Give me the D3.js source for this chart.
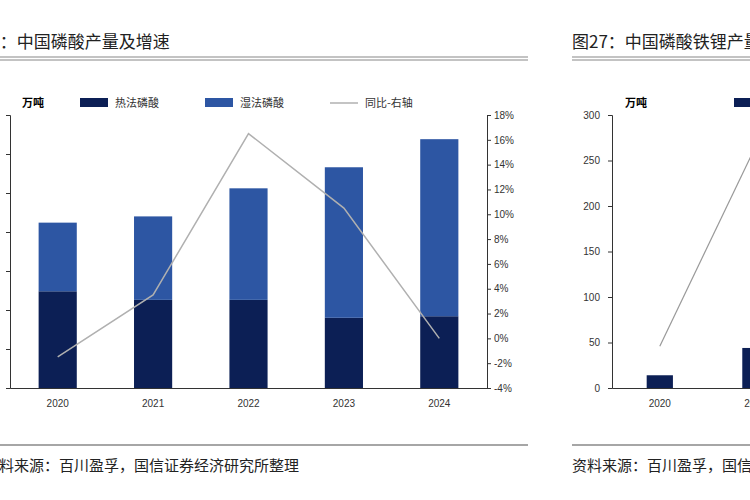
<!DOCTYPE html>
<html><head><meta charset="utf-8">
<script src="https://cdn.jsdelivr.net/npm/d3@7"></script>
<style>body{margin:0;background:#fff}svg{display:block;font-family:"Noto Sans CJK SC",sans-serif}</style>
</head><body><div id="chart"></div>
<script>
const years = ['2020', '2021', '2022', '2023', '2024'];
const thermal = [124, 113, 113, 90, 92];       // 热法磷酸
const wet = [88, 107, 143, 193, 227];          // 湿法磷酸
const yoy = [-1.5, 3.5, 16.5, 10.5, 0];        // 同比 %
const pctTicks = [-4, -2, 0, 2, 4, 6, 8, 10, 12, 14, 16, 18];

const years2 = ['2020', '2021', '2022', '2023', '2024'];
const lfp = [14, 44, 0, 0, 0];                 // only first two visible
const lfpLine = [46, 265];
const ticks2 = [0, 50, 100, 150, 200, 250, 300];

const color = { dark: '#0c1f55', mid: '#2d56a3', line: '#b0b0b0', axis: '#333' };

const svg = d3.select('#chart').append('svg').attr('width', 750).attr('height', 500);

function header(tx, sx, x0, x1, title, src) {
    svg.append('text').attr('x', tx).attr('y', 48).attr('font-size', 17).attr('fill', '#222').text(title);
    [57, 60].forEach(y => svg.append('line').attr('x1', x0).attr('x2', x1)
        .attr('y1', y).attr('y2', y).attr('stroke', '#888').attr('stroke-width', 1.2));
    svg.append('line').attr('x1', x0).attr('x2', x1).attr('y1', 445).attr('y2', 445)
        .attr('stroke', '#888').attr('stroke-width', 1.5);
    svg.append('text').attr('x', sx).attr('y', 471).attr('font-size', 15).attr('fill', '#222').text(src);
}
header(-36, -16, 0, 528, '图26：中国磷酸产量及增速', '资料来源：百川盈孚，国信证券经济研究所整理');
header(572, 572, 572, 750, '图27：中国磷酸铁锂产量', '资料来源：百川盈孚，国信证券经济研究所整理');

// ---- left chart
const x = d3.scaleBand().domain(years).range([10, 487]).paddingInner(0.6).paddingOuter(0.3);
const y = d3.scaleLinear().domain([0, 350]).range([388, 115]);
const yR = d3.scaleLinear().domain([-4, 18]).range([388, 115]);

svg.append('g').attr('transform', 'translate(10,0)')
    .call(d3.axisLeft(y).ticks(7).tickSize(4).tickFormat(''))
    .call(g => g.selectAll('path,line').attr('stroke', color.axis));
svg.append('g').attr('transform', 'translate(487,0)')
    .call(d3.axisRight(yR).tickValues(pctTicks).tickSize(4).tickFormat(d => d + '%'))
    .call(g => g.selectAll('path,line').attr('stroke', color.axis))
    .call(g => g.selectAll('text').attr('font-size', 10).attr('fill', '#333').attr('font-family', 'Arial'));
svg.append('g').attr('transform', 'translate(0,388)')
    .call(d3.axisBottom(x).tickSize(0).tickPadding(12))
    .call(g => g.select('path').attr('stroke', color.axis))
    .call(g => g.selectAll('text').attr('font-size', 10).attr('fill', '#333').attr('font-family', 'Arial'));

svg.append('g').selectAll('rect').data(years).join('rect')
    .attr('x', d => x(d)).attr('width', x.bandwidth())
    .attr('y', (d, i) => y(thermal[i])).attr('height', (d, i) => y(0) - y(thermal[i]))
    .attr('fill', color.dark);
svg.append('g').selectAll('rect').data(years).join('rect')
    .attr('x', d => x(d)).attr('width', x.bandwidth())
    .attr('y', (d, i) => y(thermal[i] + wet[i])).attr('height', (d, i) => y(thermal[i]) - y(thermal[i] + wet[i]))
    .attr('fill', color.mid);
svg.append('path').datum(yoy)
    .attr('d', d3.line().x((d, i) => x(years[i]) + x.bandwidth() / 2).y(d => yR(d)))
    .attr('fill', 'none').attr('stroke', color.line).attr('stroke-width', 1.5);

// legend
svg.append('text').attr('x', 22).attr('y', 107).attr('font-size', 11).attr('font-weight', 'bold').text('万吨');
const leg = [['热法磷酸', color.dark, 'rect', 80], ['湿法磷酸', color.mid, 'rect', 205], ['同比-右轴', color.line, 'line', 330]];
leg.forEach(([t, c, k, lx]) => {
    if (k === 'rect') svg.append('rect').attr('x', lx).attr('y', 98).attr('width', 28).attr('height', 9).attr('fill', c);
    else svg.append('line').attr('x1', lx).attr('x2', lx + 28).attr('y1', 103).attr('y2', 103).attr('stroke', c).attr('stroke-width', 1.5);
    svg.append('text').attr('x', lx + 35).attr('y', 107).attr('font-size', 11).attr('fill', '#333').text(t);
});

// ---- right chart (partially visible)
const x2 = d3.scaleBand().domain(years2).range([612, 1090]).paddingInner(0.6).paddingOuter(0.3);
const y2 = d3.scaleLinear().domain([0, 300]).range([388, 115]);
svg.append('g').attr('transform', 'translate(612,0)')
    .call(d3.axisLeft(y2).tickValues(ticks2).tickSize(4).tickPadding(8))
    .call(g => g.selectAll('path,line').attr('stroke', color.axis))
    .call(g => g.selectAll('text').attr('font-size', 10).attr('fill', '#333').attr('font-family', 'Arial'));
svg.append('g').attr('transform', 'translate(0,388)')
    .call(d3.axisBottom(x2).tickSize(0).tickPadding(12))
    .call(g => g.select('path').attr('stroke', color.axis))
    .call(g => g.selectAll('text').attr('font-size', 10).attr('fill', '#333').attr('font-family', 'Arial'));
svg.append('g').selectAll('rect').data(years2.slice(0, 2)).join('rect')
    .attr('x', d => x2(d) + 6).attr('width', x2.bandwidth() - 12)
    .attr('y', (d, i) => y2(lfp[i])).attr('height', (d, i) => y2(0) - y2(lfp[i]))
    .attr('fill', color.dark);
svg.append('path').datum(lfpLine)
    .attr('d', d3.line().x((d, i) => x2(years2[i]) + x2.bandwidth() / 2).y(d => y2(d)))
    .attr('fill', 'none').attr('stroke', '#999').attr('stroke-width', 1.2);
svg.append('text').attr('x', 625).attr('y', 107).attr('font-size', 11).attr('font-weight', 'bold').text('万吨');
svg.append('rect').attr('x', 734).attr('y', 98).attr('width', 28).attr('height', 9).attr('fill', color.dark);
</script></body></html>
